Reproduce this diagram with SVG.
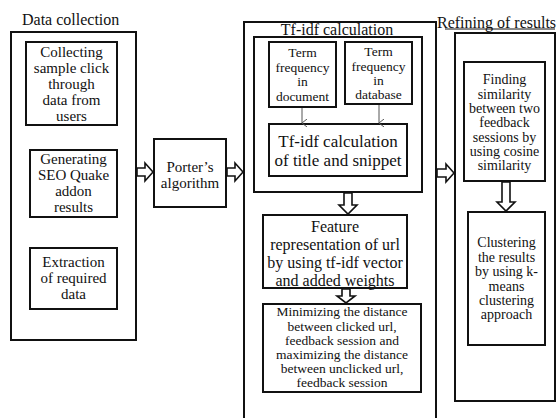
<svg xmlns="http://www.w3.org/2000/svg" width="557" height="418" viewBox="0 0 557 418">
<defs>
<style>
.box{fill:#fff;stroke:#111;stroke-width:2}
.frame{fill:none;stroke:#111;stroke-width:2}
.harrow{fill:#fff;stroke:#111;stroke-width:1.6;stroke-linejoin:miter}
.thin{stroke:#555;stroke-width:1;fill:none}
text{font-family:"Liberation Serif","Times New Roman",serif;fill:#111;text-anchor:middle}
.t15{font-size:15px}
.t13{font-size:13.5px}
.t14{font-size:14px}
.t16{font-size:16px}
.t17{font-size:17px}
.title{font-size:16px}
</style>
<marker id="v" markerWidth="8" markerHeight="8" refX="4" refY="7" orient="auto" markerUnits="userSpaceOnUse">
<path d="M0,2 L4,7 L8,2" fill="none" stroke="#555" stroke-width="1"/>
</marker>
</defs>

<g id="data-collection">
<text class="title" x="22" y="25" style="text-anchor:start">Data collection</text>
<rect class="frame" x="11" y="32" width="125" height="308"/>
</g>
<g id="collecting">
<rect class="box" x="26" y="42" width="91" height="83"/>
<text class="t15" x="71.5" y="57">Collecting</text>
<text class="t15" x="71.5" y="73">sample click</text>
<text class="t15" x="71.5" y="89">through</text>
<text class="t15" x="71.5" y="105">data from</text>
<text class="t15" x="71.5" y="121">users</text>
</g>
<g id="generating">
<rect class="box" x="30" y="150" width="87" height="67"/>
<text class="t15" x="73.5" y="164">Generating</text>
<text class="t15" x="73.5" y="180">SEO Quake</text>
<text class="t15" x="73.5" y="196">addon</text>
<text class="t15" x="73.5" y="212">results</text>
</g>
<g id="extraction">
<rect class="box" x="30" y="248" width="87" height="61"/>
<text class="t15" x="73.5" y="267">Extraction</text>
<text class="t15" x="73.5" y="283">of required</text>
<text class="t15" x="73.5" y="299">data</text>
</g>
<g id="porter">
<rect class="box" x="154" y="139" width="72" height="68"/>
<text class="t15" x="190" y="172">Porter’s</text>
<text class="t15" x="190" y="188">algorithm</text>
</g>

<g id="tfidf-calculation">
<path class="frame" d="M244,418 V22 H436 V418"/>
<text class="title" x="337" y="35">Tf-idf calculation</text>
<rect class="box" x="254" y="37" width="168" height="155"/>
</g>
<g id="tf-document">
<rect class="box" x="269" y="42" width="67" height="65"/>
<text class="t13" x="302.5" y="57">Term</text>
<text class="t13" x="302.5" y="72">frequency</text>
<text class="t13" x="302.5" y="86">in</text>
<text class="t13" x="302.5" y="101">document</text>
</g>
<g id="tf-database">
<rect class="box" x="345" y="42" width="67" height="62"/>
<text class="t13" x="378.5" y="56">Term</text>
<text class="t13" x="378.5" y="71">frequency</text>
<text class="t13" x="378.5" y="85">in</text>
<text class="t13" x="378.5" y="99">database</text>
</g>
<g id="tfidf-title-snippet">
<rect class="box" x="269" y="124" width="138" height="52"/>
<text class="t17" x="338" y="147">Tf-idf calculation</text>
<text class="t17" x="338" y="166">of title and snippet</text>
</g>
<g id="feature">
<rect class="box" x="263" y="215" width="144" height="73"/>
<text class="t16" x="335" y="232">Feature</text>
<text class="t16" x="335" y="250">representation of url</text>
<text class="t16" x="335" y="268">by using tf-idf vector</text>
<text class="t16" x="335" y="286">and added weights</text>
</g>
<g id="minimizing">
<rect class="box" x="263" y="304" width="158" height="88"/>
<text class="t13" x="342" y="316">Minimizing the distance</text>
<text class="t13" x="342" y="331">between clicked url,</text>
<text class="t13" x="342" y="345">feedback session and</text>
<text class="t13" x="342" y="359">maximizing the distance</text>
<text class="t13" x="342" y="373">between unclicked url,</text>
<text class="t13" x="342" y="387">feedback session</text>
</g>

<g id="refining">
<text class="title" x="437" y="28" style="text-anchor:start">Refining of results</text>
<line x1="445" y1="29" x2="555" y2="29" stroke="#111" stroke-width="1"/>
<rect class="frame" x="455" y="33" width="100" height="368"/>
</g>
<g id="finding">
<rect class="box" x="464" y="62" width="81" height="119"/>
<text class="t14" x="504.5" y="84">Finding</text>
<text class="t14" x="504.5" y="99">similarity</text>
<text class="t14" x="504.5" y="113">between two</text>
<text class="t14" x="504.5" y="127">feedback</text>
<text class="t14" x="504.5" y="142">sessions by</text>
<text class="t14" x="504.5" y="156">using cosine</text>
<text class="t14" x="504.5" y="170">similarity</text>
</g>
<g id="clustering">
<rect class="box" x="468" y="212" width="77" height="133"/>
<text class="t14" x="506.5" y="247">Clustering</text>
<text class="t14" x="506.5" y="262">the results</text>
<text class="t14" x="506.5" y="276">by using k-</text>
<text class="t14" x="506.5" y="291">means</text>
<text class="t14" x="506.5" y="305">clustering</text>
<text class="t14" x="506.5" y="319">approach</text>
</g>

<g id="connectors">
<polygon class="harrow" points="137,168 145,168 145,163 153,172 145,181 145,176 137,176"/>
<polygon class="harrow" points="227,168 235,168 235,163 243,172 235,181 235,176 227,176"/>
<polygon class="harrow" points="437,169 446,169 446,164 454,173 446,182 446,177 437,177"/>
<polygon class="harrow" points="344,193 344,205 339,205 348,214 357,205 352,205 352,193"/>
<polygon class="harrow" points="342,289 342,296 337,296 346,303 355,296 350,296 350,289"/>
<polygon class="harrow" points="502,182 502,202 497,202 506,211 515,202 510,202 510,182"/>
<line class="thin" x1="302" y1="108" x2="302" y2="123" marker-end="url(#v)"/>
<line class="thin" x1="379" y1="105" x2="379" y2="123" marker-end="url(#v)"/>
</g>
</svg>
